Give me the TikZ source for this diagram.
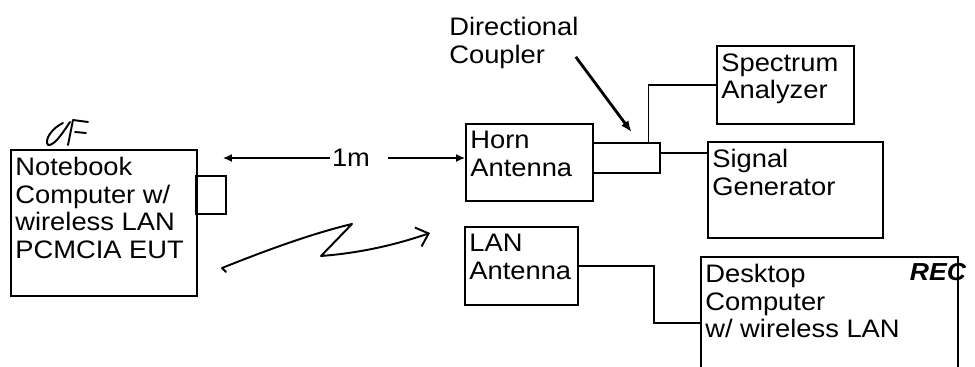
\documentclass[tikz,border=0pt]{standalone}
\usepackage{fontspec}
\setmainfont[FakeStretch=1.08]{Liberation Sans}
\usetikzlibrary{arrows.meta, positioning, calc}
\newlength\pxu
\setlength\pxu{0.02cm}

\begin{document}
\begin{tikzpicture}[x=0.02cm, y=-0.02cm,
        box/.style={draw, line width=1.1pt, anchor=north west, inner sep=0pt},
        lbl/.style={anchor=north west, align=left, inner xsep=5\pxu, inner ysep=8\pxu, font=\fontsize{14.4}{15.7}\selectfont},
        wire/.style={line width=0.8pt},
        arr/.style={wire, -{Latex[length=0.18cm, width=0.16cm]}},
        ink/.style={line width=1.1pt, line cap=round, line join=round}]
        \clip (0,0) rectangle (975,367);

        % equipment boxes
        \node[box, minimum width=186\pxu, minimum height=146\pxu] (nb) at (10,149) {};
        \node[box, minimum width=30\pxu, minimum height=38\pxu] (card) at (195,175) {};
        \node[box, minimum width=127\pxu, minimum height=77\pxu] (horn) at (465,123) {};
        \node[box, minimum width=67\pxu, minimum height=30\pxu] (coup) at (592,142) {};
        \node[box, minimum width=137\pxu, minimum height=78\pxu] (spec) at (716,45) {};
        \node[box, minimum width=175\pxu, minimum height=96\pxu] (sig) at (707,141) {};
        \node[box, minimum width=113\pxu, minimum height=78\pxu] (lan) at (464,226) {};
        \node[box, minimum width=257\pxu, minimum height=150\pxu] (desk) at (700,256) {};

        % box texts
        \node[lbl] (nbtext) at (nb.north west) {Notebook\\Computer w/\\wireless LAN\\PCMCIA EUT};
        \node[lbl] (horntext) at (horn.north west) {Horn\\Antenna};
        \node[lbl] (spectext) at (spec.north west) {Spectrum\\Analyzer};
        \node[lbl] (sigtext) at (sig.north west) {Signal\\Generator};
        \node[lbl] (lantext) at (lan.north west) {LAN\\Antenna};
        \node[lbl] (desktext) at (desk.north west) {Desktop\\Computer\\w/ wireless LAN};
        \node[lbl, inner sep=0pt] (dc) at (449,17) {Directional\\Coupler};

        % distance
        \node[font=\fontsize{14.4}{15.7}\selectfont, inner sep=2\pxu] (dist) at (351,158) {1m};
        \coordinate (nbtip) at (223,158);
        \draw[arr] (dist.west) -- (nbtip);
        \draw[arr] ([xshift=16\pxu]dist.east) -- (horn.west |- dist);

        % cabling
        \draw[line width=1.6pt, -{Latex[length=0.22cm, width=0.18cm]}] ([shift={(-3,-12)}]dc.south east) -- ([shift={(5,-10)}]coup.north);
        \draw[wire] ([xshift=22\pxu]coup.north) |- (spec.west);
        \coordinate (cpo) at ([yshift=5\pxu]coup.east);
        \draw[wire] (cpo) -- (sig.west |- cpo);
        \draw[wire] (lan.east) -- ++(75,0) |- ([yshift=-67\pxu]desk.north west);

        % hand drawn marks
        \coordinate (wlA) at (222,268);
        \coordinate (wlB) at (430,233);
        \draw[ink, -{Straight Barb[length=0.22cm, width=0.4cm]}] (226,272) -- (wlA) .. controls (262,252) and (310,234) .. (352,224) -- (321,256) .. controls (360,253) and (395,245) .. (wlB);
        \draw[ink] (63,123) .. controls (52,128) and (44,140) .. (48,145) .. controls (54,146) and (62,134) .. (70,122);
        \draw[ink] (68,145) -- (73,120) -- (88,122) (75,132) -- (86,133);
        \node[font=\bfseries\itshape\fontsize{14}{14}\selectfont, inner sep=0pt] (rec) at (938,272) {REC};
\end{tikzpicture}
\end{document}
